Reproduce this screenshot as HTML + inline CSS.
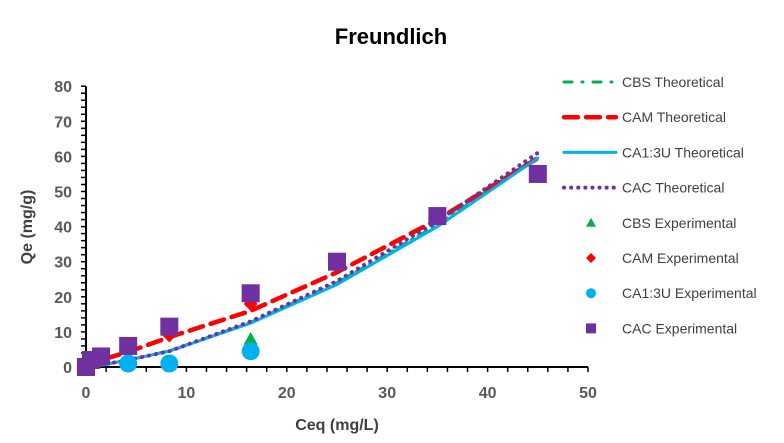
<!DOCTYPE html>
<html><head><meta charset="utf-8"><style>
body{margin:0;background:#fff;font-family:"Liberation Sans",sans-serif}
svg text{font-family:"Liberation Sans",sans-serif}
</style></head><body>
<svg id="c" width="784" height="438" xmlns="http://www.w3.org/2000/svg">
<text x="391" y="44" text-anchor="middle" font-size="22" font-weight="bold" fill="#000">Freundlich</text>
<text x="32" y="227" text-anchor="middle" font-size="16" font-weight="bold" fill="#404040" transform="rotate(-90 32 227)">Qe (mg/g)</text>
<text x="337" y="430" text-anchor="middle" font-size="16" font-weight="bold" fill="#404040">Ceq (mg/L)</text>
<g id="axes"></g><g id="series"></g><g id="legend"></g>
</svg>
<script>
const xs=[0,1.5,4.2,8.3,16.4,25,35,45];
const cbsTheo=[0,0.6,2,4.6,12.7,24,40.5,60];
const camTheo=[0,2,4.3,8.5,16,27,42,59.5];
const ca13uTheo=[0,0.5,2,4.5,12.5,23.5,40,59.5];
const cacTheo=[0,0.6,2,4.5,13,24.5,41.5,61];
const cbsExpX=[16.4];const cbsExpY=[8];
const camExpX=[8.3,16.4];const camExpY=[9,18];
const ca13uExpX=[0,4.2,8.3,16.4];const ca13uExpY=[0,1,1,4.5];
const cacExpX=[0,0.5,1.5,4.2,8.3,16.4,25,35,45];const cacExpY=[0,2,3,6,11.5,21,30,43,55];
const xTicks=[0,10,20,30,40,50];const yTicks=[0,10,20,30,40,50,60,70,80];
const NS="http://www.w3.org/2000/svg";
const X=v=>86+v*10.04, Y=v=>367-v*3.51;
function mk(tag,attrs,parent){const e=document.createElementNS(NS,tag);for(const k in attrs)e.setAttribute(k,attrs[k]);parent.appendChild(e);return e;}
const ax=document.getElementById('axes'),sr=document.getElementById('series'),lg=document.getElementById('legend');
let a=mk('line',{x1:X(0),y1:Y(0),x2:X(50),y2:Y(0),stroke:'#000','stroke-width':2},ax);


a=mk('line',{x1:X(0),y1:Y(0),x2:X(0),y2:Y(80),stroke:'#000','stroke-width':2},ax);


for(let v=0;v<=50;v+=2){mk('line',{x1:X(v),y1:Y(0),x2:X(v),y2:Y(0)+5,stroke:'#000','stroke-width':1.5},ax);}
for(let v=0;v<=80;v+=2){mk('line',{x1:X(0)-5,y1:Y(v),x2:X(0),y2:Y(v),stroke:'#000','stroke-width':1.5},ax);}
xTicks.forEach(v=>{const t=mk('text',{x:X(v),y:Y(0)+31,'text-anchor':'middle','font-size':16,'font-weight':'bold',fill:'#595959'},ax);t.textContent=v;

});
yTicks.forEach(v=>{const t=mk('text',{x:X(0)-14,y:Y(v)+6,'text-anchor':'end','font-size':16,'font-weight':'bold',fill:'#595959'},ax);t.textContent=v;

});
const lines=[[cbsTheo,'#00b050','10 6 2 6','cbs-theoretical-line'],[camTheo,'#ff0000','14 8','cam-theoretical-line'],[ca13uTheo,'#00b0f0','','ca13u-theoretical-line'],[cacTheo,'#7030a0','0.1 7','cac-theoretical-line']];
const widths=[3,4.5,3,4];
lines.forEach((l,i)=>{const p=mk('polyline',{points:xs.map((x,j)=>X(x)+','+Y(l[0][j])).join(' '),fill:'none',stroke:l[1],'stroke-width':widths[i],'stroke-dasharray':l[2],'stroke-linecap':'round'},sr);

});
function tri(x,y,s,g){return mk('polygon',{points:`${x},${y-s} ${x+s},${y+s*0.8} ${x-s},${y+s*0.8}`,fill:'#00b050'},g);}
function dia(x,y,s,g){return mk('polygon',{points:`${x},${y-s} ${x+s},${y} ${x},${y+s} ${x-s},${y}`,fill:'#ff0000'},g);}
function cir(x,y,s,g){return mk('circle',{cx:x,cy:y,r:s,fill:'#00b0f0'},g);}
function sq(x,y,s,g){return mk('rect',{x:x-s,y:y-s,width:2*s,height:2*s,fill:'#7030a0'},g);}
camExpX.forEach((x,i)=>{const m=dia(X(x),Y(camExpY[i]),7,sr);

});
cbsExpX.forEach((x,i)=>{const m=tri(X(x),Y(cbsExpY[i]),7,sr);

});
ca13uExpX.forEach((x,i)=>{const m=cir(X(x),Y(ca13uExpY[i]),9,sr);

});
cacExpX.forEach((x,i)=>{const m=sq(X(x),Y(cacExpY[i]),9,sr);

});
const legNames=['CBS Theoretical','CAM Theoretical','CA1:3U Theoretical','CAC Theoretical','CBS Experimental','CAM Experimental','CA1:3U Experimental','CAC Experimental'];
legNames.forEach((n,i)=>{const y=82+i*35.2;const g=mk('g',{},lg);


if(i<4){mk('line',{x1:564,y1:y,x2:616,y2:y,stroke:lines[i][1],'stroke-width':widths[i],'stroke-dasharray':i==0?'8 10 1 10':lines[i][2],'stroke-linecap':'round'},g);}
else{const f=[tri,dia,cir,sq][i-4];f(591,y,[5,5,5,5][i-4],g);}
const t=mk('text',{x:622,y:y+5,'font-size':14,fill:'#404040'},g);t.textContent=n;});
</script>
</body></html>
